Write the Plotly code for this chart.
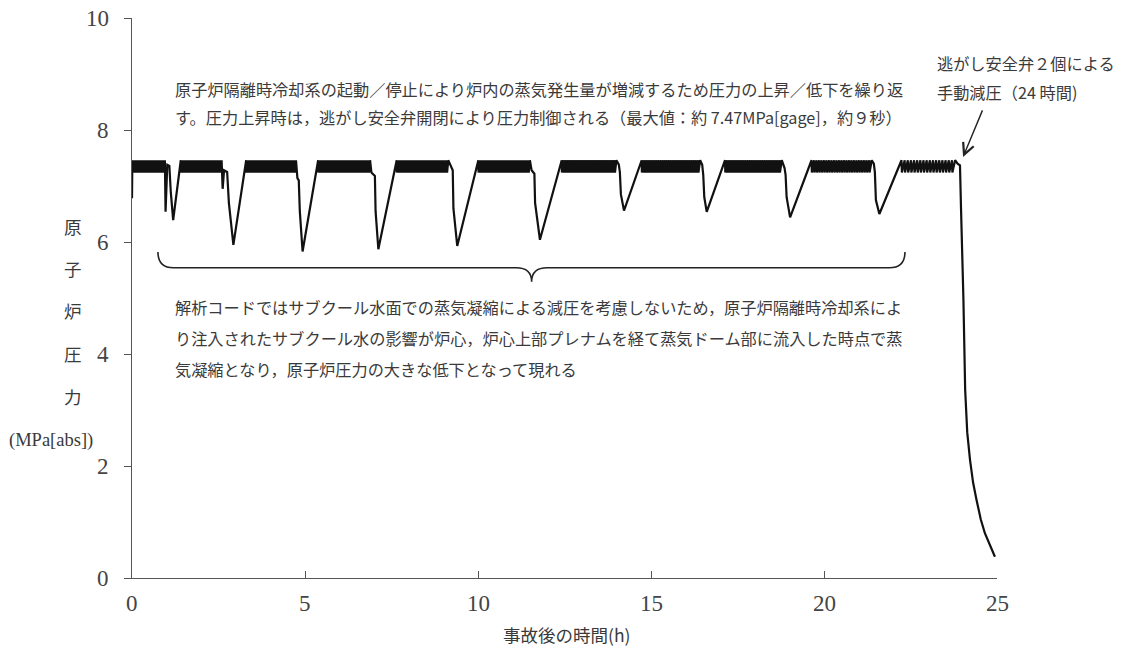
import plotly.graph_objects as go

# ---- reactor pressure trace (time in h, pressure in MPa[abs]) ----
# plateaus where the safety relief valves cycle open/closed
plateau_start = [0.01, 1.41, 3.30, 5.38, 7.65, 10.01, 12.42, 14.73, 17.14, 19.64, 22.24]
plateau_end = [0.95, 2.59, 4.74, 6.88, 9.14, 11.50, 14.00, 16.42, 18.78, 21.38, 23.79]
valve_cycles = [30, 34, 40, 42, 40, 38, 34, 30, 27, 24, 17]
band_high = 7.46
band_low = 7.24

initial_t = [0.0]
initial_p = [6.78]

# pressure dips caused by RCIC start/stop, between successive plateaus
dip_t = [
    [0.97, 1.02, 1.08, 1.12, 1.19],
    [2.62, 2.66, 2.75, 2.80, 2.93],
    [4.78, 4.82, 4.85, 4.93],
    [6.92, 7.02, 7.04, 7.12],
    [9.20, 9.27, 9.29, 9.40],
    [11.55, 11.63, 11.65, 11.79],
    [14.07, 14.10, 14.13, 14.22],
    [16.48, 16.51, 16.54, 16.61],
    [18.86, 18.89, 18.92, 19.02],
    [21.44, 21.47, 21.50, 21.60],
]
dip_p = [
    [6.54, 7.38, 7.36, 6.90, 6.39],
    [6.95, 7.28, 7.25, 6.70, 5.95],
    [7.14, 7.10, 6.55, 5.83],
    [7.24, 7.18, 6.55, 5.87],
    [7.36, 7.28, 6.60, 5.93],
    [7.28, 7.22, 6.70, 6.04],
    [7.38, 7.25, 6.85, 6.56],
    [7.38, 7.20, 6.80, 6.54],
    [7.32, 7.20, 6.80, 6.44],
    [7.40, 7.25, 6.75, 6.50],
]

# manual depressurization with two relief valves at 24 h
depress_t = [23.86, 23.93, 23.96, 24.00, 24.03, 24.08, 24.14, 24.22, 24.31,
             24.41, 24.53, 24.65, 24.80, 24.94]
depress_p = [7.40, 7.37, 6.60, 5.70, 4.96, 3.36, 2.60, 2.11, 1.70,
             1.39, 1.05, 0.80, 0.57, 0.38]

# tick labels
x_ticks = [0, 5, 10, 15, 20, 25]
y_ticks = [0, 2, 4, 6, 8, 10]

# ---- texts ----
note_top = [
    "原子炉隔離時冷却系の起動／停止により炉内の蒸気発生量が増減するため圧力の上昇／低下を繰り返",
    "す。圧力上昇時は，逃がし安全弁開閉により圧力制御される（最大値：約 7.47MPa[gage]，約９秒）",
]
note_mid = [
    "解析コードではサブクール水面での蒸気凝縮による減圧を考慮しないため，原子炉隔離時冷却系によ",
    "り注入されたサブクール水の影響が炉心，炉心上部プレナムを経て蒸気ドーム部に流入した時点で蒸",
    "気凝縮となり，原子炉圧力の大きな低下となって現れる",
]
note_valve = ["逃がし安全弁２個による", "手動減圧（24 時間)"]
y_title_chars = ["原", "子", "炉", "圧", "力"]
y_title_unit = "(MPa[abs])"
x_title = "事故後の時間(h)"

# ---- build the trace ----
t = list(initial_t)
p = list(initial_p)
for i, (s, e, n) in enumerate(zip(plateau_start, plateau_end, valve_cycles)):
    dt = (e - s) / n
    t.append(s)
    p.append(band_high)
    for k in range(n):
        t.append(s + (k + 0.12) * dt)
        p.append(band_low)
        t.append(s + (k + 1) * dt)
        p.append(band_high)
    if i < len(dip_t):
        t.extend(dip_t[i])
        p.extend(dip_p[i])
t.extend(depress_t)
p.extend(depress_p)

# ---- figure ----
W, H = 1128, 650
L, R, T, B = 132, 131, 18, 72
PW, PH = W - L - R, H - T - B


def px(x):
    return (x - L) / PW


def py(y):
    return (H - B - y) / PH


TEXT_FONT = dict(family="Noto Sans CJK JP", size=16.2, color="#3a3a3a")
TITLE_FONT = dict(family="Noto Sans CJK JP", size=17.5, color="#3a3a3a")
NUM_FONT = dict(family="Liberation Serif", size=23, color="#444444")

fig = go.Figure()
fig.add_trace(go.Scatter(x=t, y=p, mode="lines",
                         line=dict(color="#111111", width=2.2),
                         hoverinfo="skip", showlegend=False))

ann = []
for j, line in enumerate(note_top):
    ann.append(dict(x=px(173), y=py(89 + 28 * j), text=line))
for j, line in enumerate(note_mid):
    ann.append(dict(x=px(173), y=py(307 + 31 * j), text=line))
for j, line in enumerate(note_valve):
    ann.append(dict(x=px(935), y=py(63 + 29 * j), text=line))
for a in ann:
    a.update(xref="paper", yref="paper", xanchor="left", yanchor="middle",
             showarrow=False, font=TEXT_FONT)

# tick labels (tall serif digits)
for v in y_ticks:
    ann.append(dict(x=px(111), y=v, xref="paper", yref="y", text=str(v),
                    xanchor="right", yanchor="middle", showarrow=False,
                    font=NUM_FONT))
for v in x_ticks:
    ann.append(dict(x=v, y=py(603), xref="x", yref="paper", text=str(v),
                    xanchor="center", yanchor="middle", showarrow=False,
                    font=NUM_FONT))

# axis titles
for j, ch in enumerate(y_title_chars):
    ann.append(dict(x=px(73), y=py(226 + 42.5 * j), text=ch, xref="paper",
                    yref="paper", showarrow=False, font=TITLE_FONT,
                    xanchor="center", yanchor="middle"))
ann.append(dict(x=px(51), y=py(440), text=y_title_unit, xref="paper",
                yref="paper", showarrow=False, xanchor="center",
                yanchor="middle",
                font=dict(family="Liberation Serif", size=18.5, color="#3a3a3a")))
ann.append(dict(x=px(566), y=py(634), text=x_title, xref="paper",
                yref="paper", showarrow=False, xanchor="center",
                yanchor="middle", font=TITLE_FONT))

# arrow pointing at the start of depressurization
ann.append(dict(x=24.02, y=7.52, xref="x", yref="y", ax=20, ay=-48,
                axref="pixel", ayref="pixel", text="", showarrow=True,
                arrowhead=5, arrowsize=1.6, arrowwidth=1.4,
                arrowcolor="#222222"))

fig.update_layout(annotations=ann)

# curly brace spanning the RCIC-driven dips
brace_l, brace_r, brace_c = 0.75, 22.34, 11.55
brace_top, brace_mid, brace_tip = 5.82, 5.54, 5.29
path = (f"M {brace_l},{brace_top} Q {brace_l},{brace_mid} {brace_l + 0.45},{brace_mid} "
        f"L {brace_c - 0.45},{brace_mid} Q {brace_c},{brace_mid} {brace_c},{brace_tip} "
        f"Q {brace_c},{brace_mid} {brace_c + 0.45},{brace_mid} "
        f"L {brace_r - 0.45},{brace_mid} Q {brace_r},{brace_mid} {brace_r},{brace_top}")
fig.add_shape(type="path", path=path, xref="x", yref="y",
              line=dict(color="#222222", width=1.6))

fig.update_layout(
    width=W, height=H,
    margin=dict(l=L, r=R, t=T, b=B),
    paper_bgcolor="white", plot_bgcolor="white",
    xaxis=dict(range=[0, 25], tickvals=x_ticks, showgrid=False,
               zeroline=False, showline=True, linecolor="#555555",
               linewidth=1.3, ticks="inside", ticklen=7, tickwidth=1.2,
               tickcolor="#555555", showticklabels=False),
    yaxis=dict(range=[0, 10], tickvals=y_ticks, showgrid=False,
               zeroline=False, showline=True, linecolor="#555555",
               linewidth=1.3, ticks="outside", ticklen=7, tickwidth=1.2,
               tickcolor="#555555", showticklabels=False),
)

fig.write_html("out.html")
